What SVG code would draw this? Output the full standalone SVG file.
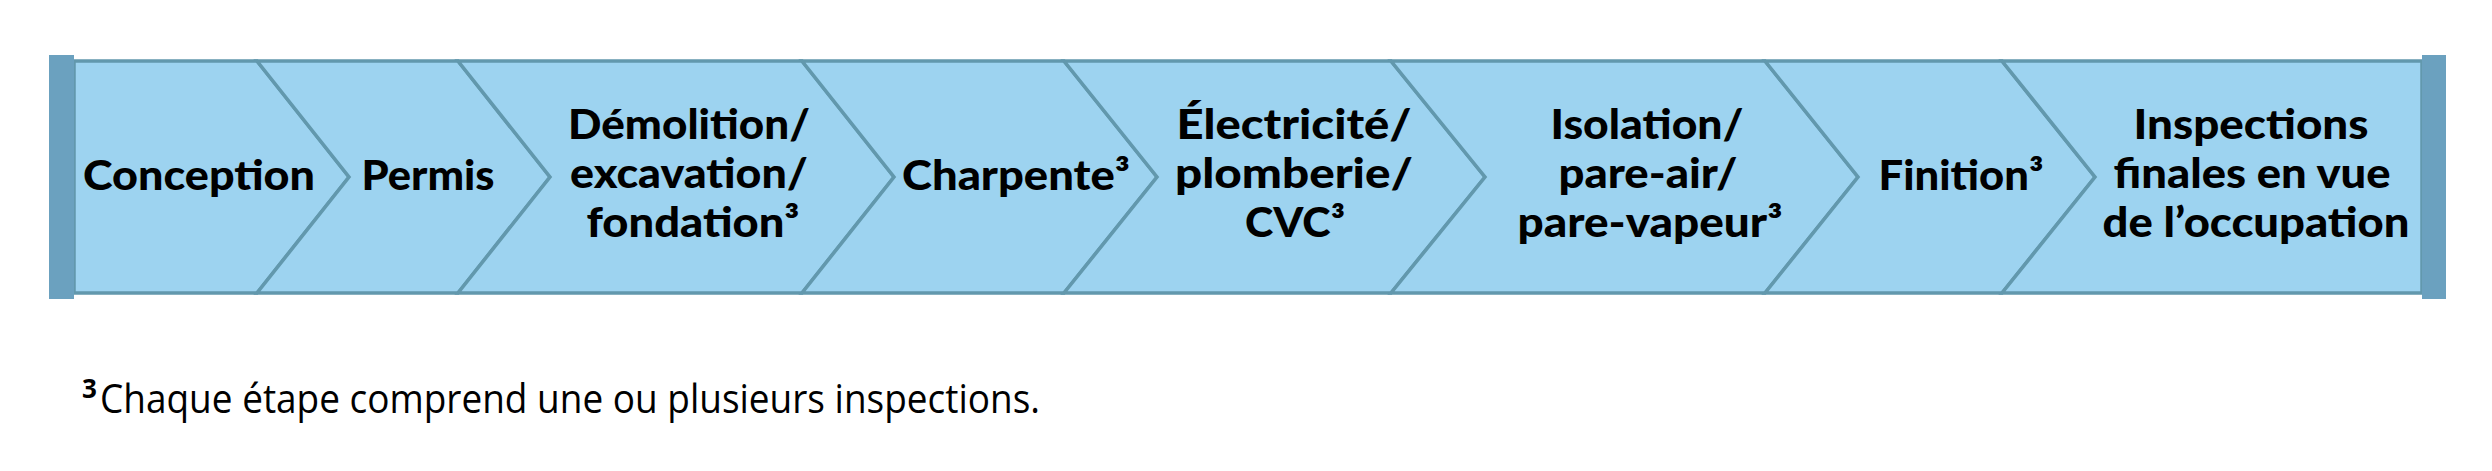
<svg xmlns="http://www.w3.org/2000/svg" width="2492" height="471" viewBox="0 0 2492 471">
<style>
.bg{fill:#ffffff}
.step{fill:#9dd3f0;stroke:#6298ad;stroke-width:3.5;stroke-linejoin:miter}
.cap{fill:#6ba1bf}
.lbl{font-family:"Lato","Liberation Sans",sans-serif;font-weight:900;font-size:41px;fill:#000;text-anchor:middle}
.note{font-family:"Open Sans","Liberation Sans",sans-serif;font-size:41px;fill:#000}
.sup{font-family:"Open Sans","Liberation Sans",sans-serif;font-weight:700;font-size:26px;fill:#000}
</style>
<rect class="bg" x="0" y="0" width="2492" height="471"/>
<g id="connectors"/>
<g id="node-conception">
<polygon class="step" points="74,61 257,61 349,177 257,293 74,293"/>
<text class="lbl" x="199" y="190" textLength="232" lengthAdjust="spacingAndGlyphs">Conception</text>
</g>
<g id="node-permis">
<polygon class="step" points="257,61 458,61 550,177 458,293 257,293 349,177"/>
<text class="lbl" x="428" y="190" textLength="133" lengthAdjust="spacingAndGlyphs">Permis</text>
</g>
<g id="node-demolition">
<polygon class="step" points="458,61 802,61 894,177 802,293 458,293 550,177"/>
<text class="lbl" x="689" y="139" textLength="242" lengthAdjust="spacingAndGlyphs">Démolition/</text>
<text class="lbl" x="689" y="188" textLength="238" lengthAdjust="spacingAndGlyphs">excavation/</text>
<text class="lbl" x="693" y="237" textLength="213" lengthAdjust="spacingAndGlyphs">fondation³</text>
</g>
<g id="node-charpente">
<polygon class="step" points="802,61 1064,61 1157,177 1064,293 802,293 894,177"/>
<text class="lbl" x="1016" y="190" textLength="228" lengthAdjust="spacingAndGlyphs">Charpente³</text>
</g>
<g id="node-electricite">
<polygon class="step" points="1064,61 1391,61 1485,177 1391,293 1064,293 1157,177"/>
<text class="lbl" x="1294" y="139" textLength="235" lengthAdjust="spacingAndGlyphs">Électricité/</text>
<text class="lbl" x="1294" y="188" textLength="238" lengthAdjust="spacingAndGlyphs">plomberie/</text>
<text class="lbl" x="1295" y="237" textLength="100" lengthAdjust="spacingAndGlyphs">CVC³</text>
</g>
<g id="node-isolation">
<polygon class="step" points="1391,61 1765,61 1858,177 1765,293 1391,293 1485,177"/>
<text class="lbl" x="1647" y="139" textLength="193" lengthAdjust="spacingAndGlyphs">Isolation/</text>
<text class="lbl" x="1648" y="188" textLength="179" lengthAdjust="spacingAndGlyphs">pare-air/</text>
<text class="lbl" x="1650" y="237" textLength="265" lengthAdjust="spacingAndGlyphs">pare-vapeur³</text>
</g>
<g id="node-finition">
<polygon class="step" points="1765,61 2002,61 2095,177 2002,293 1765,293 1858,177"/>
<text class="lbl" x="1961" y="190" textLength="165" lengthAdjust="spacingAndGlyphs">Finition³</text>
</g>
<g id="node-inspections">
<polygon class="step" points="2002,61 2422,61 2422,293 2002,293 2095,177"/>
<text class="lbl" x="2251" y="139" textLength="235" lengthAdjust="spacingAndGlyphs">Inspections</text>
<text class="lbl" x="2252" y="188" textLength="277" lengthAdjust="spacingAndGlyphs">finales en vue</text>
<text class="lbl" x="2256" y="237" textLength="307" lengthAdjust="spacingAndGlyphs">de l’occupation</text>
</g>
<rect class="cap" x="49" y="55" width="25" height="244"/>
<rect class="cap" x="2422" y="55" width="24" height="244"/>
<g id="footnote">
<text class="sup" x="82" y="398">3</text>
<text class="note" x="100" y="413" textLength="940" lengthAdjust="spacingAndGlyphs">Chaque étape comprend une ou plusieurs inspections.</text>
</g>
</svg>
